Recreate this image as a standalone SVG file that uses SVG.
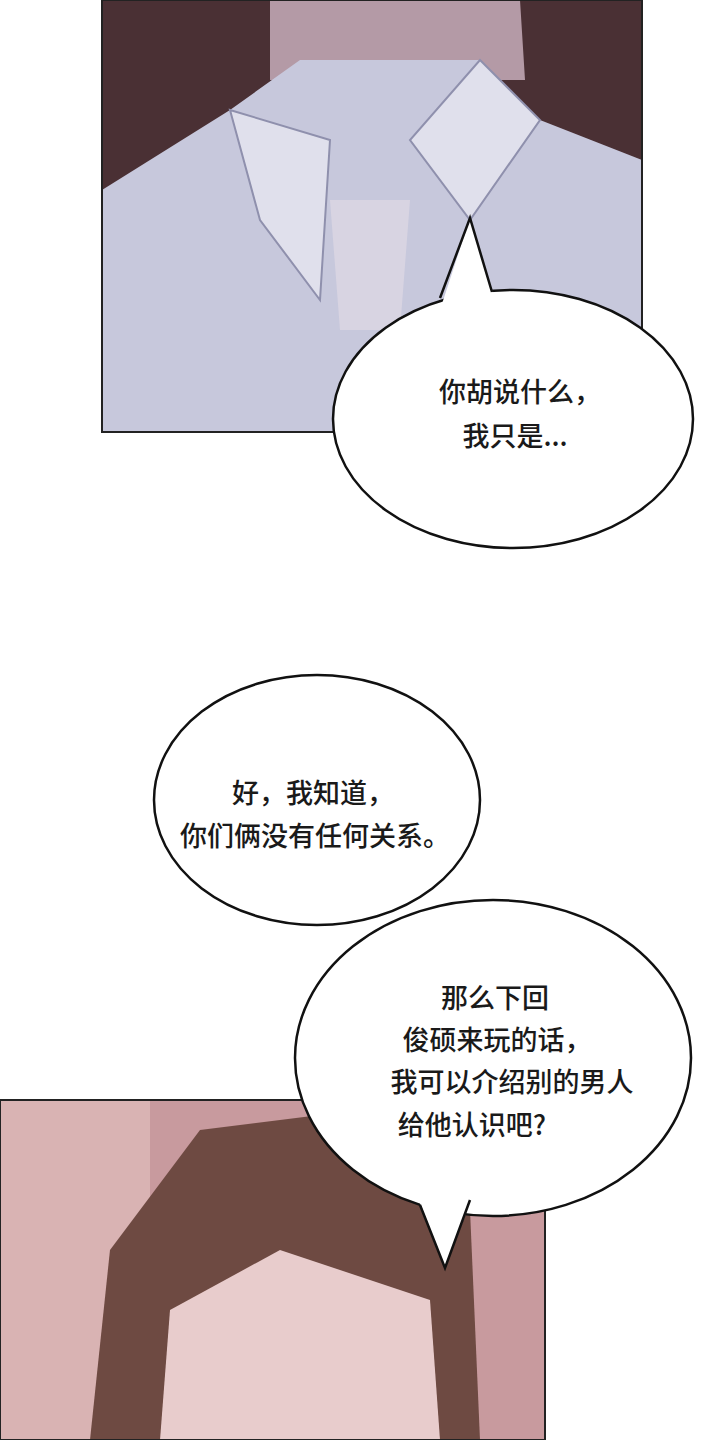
<svg xmlns="http://www.w3.org/2000/svg" width="720" height="1440" viewBox="0 0 720 1440">
<style>
.b{fill:#fff;stroke:#111;stroke-width:2.5}
.w{fill:#fff;stroke:none}
.l{fill:none;stroke:#111;stroke-width:2.5}
.t{font-family:"Noto Sans CJK SC","Noto Sans",sans-serif;font-size:27px;font-weight:500;fill:#1a1a1a;text-anchor:middle}
</style>
<rect width="720" height="1440" fill="#fff"/>
<g id="panel1">
<rect x="102" y="0" width="540" height="432" fill="#4a3034"/>
<path d="M270 0 L520 0 L525 80 L270 80 Z" fill="#b49aa6"/>
<path d="M102 190 L230 110 L300 60 L480 60 L540 120 L642 160 L642 432 L102 432 Z" fill="#c7c8dc"/>
<path d="M230 110 L260 220 L320 300 L330 140 Z M480 60 L540 120 L470 220 L410 140 Z" fill="#e0e0ec" stroke="#8f90ad" stroke-width="2"/>
<path d="M330 200 L410 200 L400 330 L340 330 Z" fill="#d8d4e2"/>
<rect x="102" y="0" width="540" height="432" fill="none" stroke="#222" stroke-width="2"/>
</g>
<g id="bubble1">
<ellipse class="b" cx="513" cy="419" rx="180" ry="129"/>
<polygon class="w" points="470,218 495,300 440,310"/>
<polyline class="l" points="440,298 470,218 492,292"/>
<text class="t" x="520" y="402">你胡说什么，</text>
<text class="t" x="515" y="446">我只是...</text>
</g>
<g id="panel2">
<rect x="0" y="1100" width="545" height="340" fill="#c89a9e"/>
<rect x="0" y="1100" width="150" height="340" fill="#d9b3b3"/>
<path d="M90 1440 L110 1250 L200 1130 L360 1110 L470 1210 L480 1440 Z" fill="#6e4a42"/>
<path d="M160 1440 L170 1310 L280 1250 L430 1300 L440 1440 Z" fill="#e8cccc"/>
<rect x="0" y="1100" width="545" height="340" fill="none" stroke="#222" stroke-width="2"/>
</g>
<g id="bubble2">
<ellipse class="b" cx="317" cy="800" rx="163" ry="125"/>
<text class="t" x="313" y="803">好，我知道，</text>
<text class="t" x="315" y="846">你们俩没有任何关系。</text>
</g>
<g id="bubble3">
<ellipse class="b" cx="493" cy="1058" rx="198" ry="158"/>
<polygon class="w" points="445,1268 475,1190 415,1190"/>
<polyline class="l" points="420,1205 445,1268 470,1200"/>
<text class="t" x="495" y="1008">那么下回</text>
<text class="t" x="497" y="1050">俊硕来玩的话，</text>
<text class="t" x="512" y="1092">我可以介绍别的男人</text>
<text class="t" x="472" y="1135">给他认识吧?</text>
</g>
</svg>
